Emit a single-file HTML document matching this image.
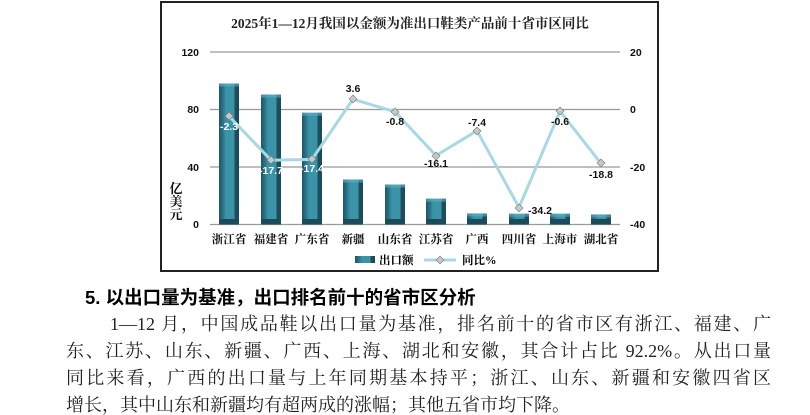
<!DOCTYPE html>
<html><head><meta charset="utf-8"><style>
body{margin:0;width:810px;height:415px;background:#fff;overflow:hidden;position:relative;font-family:"Liberation Serif","Noto Serif CJK SC",serif}
.h{position:absolute;left:85px;top:284px;font:bold 18.5px "Liberation Sans","Noto Sans CJK SC",sans-serif;color:#000}
.l{position:absolute;left:66px;width:705px;font-size:18px;color:#222;text-align:justify;text-align-last:justify;white-space:nowrap;line-height:20px}
</style></head><body>
<svg width="810" height="280" style="position:absolute;left:0;top:0">
<defs>
<linearGradient id="g" x1="0" x2="1"><stop offset="0" stop-color="#1d5666"/><stop offset="0.2" stop-color="#2a7488"/><stop offset="0.35" stop-color="#3b93a8"/><stop offset="0.75" stop-color="#3b93a8"/><stop offset="0.8" stop-color="#1d5060"/><stop offset="1" stop-color="#1b4a59"/></linearGradient>
</defs>
<rect x="161" y="2" width="497" height="269" fill="#fff" stroke="#222" stroke-width="2"/>
<text x="410" y="28" text-anchor="middle" font-size="13.5" font-weight="bold" fill="#222">2025年1—12月我国以金额为准出口鞋类产品前十省市区同比</text>
<g stroke="#999" stroke-width="1.2">
<line x1="210" y1="52" x2="620" y2="52"/><line x1="210" y1="109.5" x2="620" y2="109.5"/><line x1="210" y1="167" x2="620" y2="167"/><line x1="210" y1="224.5" x2="620" y2="224.5"/>
</g>
<g font-family="Liberation Sans,sans-serif" font-weight="bold" font-size="10.5" fill="#111">
<text x="199" y="56" text-anchor="end">120</text><text x="199" y="113" text-anchor="end">80</text><text x="199" y="171" text-anchor="end">40</text><text x="199" y="228" text-anchor="end">0</text>
<text x="630" y="56">20</text><text x="630" y="113">0</text><text x="630" y="171">-20</text><text x="630" y="228">-40</text>
</g>
<g font-size="13" font-weight="bold" fill="#111" text-anchor="middle"><text x="176" y="193">亿</text><text x="176" y="206">美</text><text x="176" y="219">元</text></g>
<g id="bars"></g>
<polyline fill="none" stroke="#a7d8e3" stroke-width="3" points="229,116.1 271,160.2 312,159.4 353,99.2 395,111.8 436,155.6 477,130.7 519,207.5 560,111.2 601,163.4"/>
<g fill="#c8c8c8" stroke="#777" stroke-width="0.6">
<path d="M229,112l4,4-4,4-4-4z"/><path d="M271,156l4,4-4,4-4-4z"/><path d="M312,155l4,4-4,4-4-4z"/><path d="M353,95l4,4-4,4-4-4z"/><path d="M395,108l4,4-4,4-4-4z"/><path d="M436,152l4,4-4,4-4-4z"/><path d="M477,127l4,4-4,4-4-4z"/><path d="M519,204l4,4-4,4-4-4z"/><path d="M560,107l4,4-4,4-4-4z"/><path d="M601,159l4,4-4,4-4-4z"/>
</g>
<g font-family="Liberation Sans,sans-serif" font-weight="bold" font-size="10.5" text-anchor="middle" fill="#111">
<text x="229" y="130" fill="#fff">-2.3</text><text x="271" y="174" fill="#fff">-17.7</text><text x="312" y="172" fill="#fff">-17.4</text>
<text x="353" y="92">3.6</text><text x="395" y="125">-0.8</text><text x="436" y="167">-16.1</text><text x="477" y="126">-7.4</text>
<text x="540" y="214">-34.2</text><text x="560" y="125">-0.6</text><text x="601" y="178">-18.8</text>
</g>
<g font-size="11.5" font-weight="bold" fill="#111" text-anchor="middle">
<text x="229" y="243">浙江省</text><text x="271" y="243">福建省</text><text x="312" y="243">广东省</text><text x="353" y="243">新疆</text><text x="395" y="243">山东省</text><text x="436" y="243">江苏省</text><text x="477" y="243">广西</text><text x="519" y="243">四川省</text><text x="560" y="243">上海市</text><text x="601" y="243">湖北省</text>
</g>
<rect x="355" y="256" width="20" height="7" fill="url(#g)"/>
<text x="379" y="264" font-size="11.5" font-weight="bold">出口额</text>
<line x1="424" y1="260" x2="456" y2="260" stroke="#a7d8e3" stroke-width="3"/>
<path d="M440,256l4,4-4,4-4-4z" fill="#c8c8c8" stroke="#777" stroke-width="0.6"/>
<text x="462" y="264" font-size="11.5" font-weight="bold">同比%</text>
</svg>
<script>
var v=[98.4,90.7,78,31.4,27.9,18,7.7,7.5,7.5,7],c=[229,271,312,353,395,436,477,519,560,601],s='';
for(var i=0;i<10;i++){var t=224.5-v[i]*1.433;s+='<rect x="'+(c[i]-10)+'" y="'+t+'" width="20" height="'+(224.5-t)+'" fill="url(#g)"/><rect x="'+(c[i]-10)+'" y="'+t+'" width="20" height="3" fill="#5fb0c4" opacity=".6"/><rect x="'+(c[i]-10)+'" y="219" width="20" height="5.5" fill="#1b4a59"/>';}
document.getElementById('bars').innerHTML=s;
</script>
<div class="h">5. 以出口量为基准，出口排名前十的省市区分析</div>
<div class="l" style="top:314px;left:110px;width:661px">1—12 月，中国成品鞋以出口量为基准，排名前十的省市区有浙江、福建、广</div>
<div class="l" style="top:341px">东、江苏、山东、新疆、广西、上海、湖北和安徽，其合计占比 92.2%。从出口量</div>
<div class="l" style="top:368px">同比来看，广西的出口量与上年同期基本持平；浙江、山东、新疆和安徽四省区</div>
<div class="l" style="top:395px;text-align-last:left">增长，其中山东和新疆均有超两成的涨幅；其他五省市均下降。</div>
</body></html>
